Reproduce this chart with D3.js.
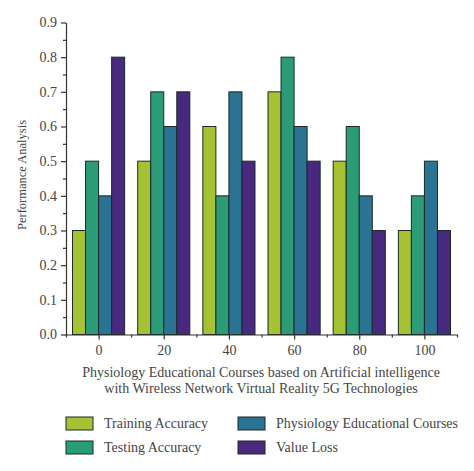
<!DOCTYPE html>
<html><head><meta charset="utf-8">
<script src="https://cdn.jsdelivr.net/npm/d3@7"></script>
<style>body{margin:0;background:#fff}svg{display:block}</style>
</head><body><svg id="c" width="474" height="471"></svg>
<script>
const categories = [0, 20, 40, 60, 80, 100];
const seriesNames = ["Training Accuracy", "Testing Accuracy", "Physiology Educational Courses", "Value Loss"];
const trainingAccuracy = [0.3, 0.5, 0.6, 0.7, 0.5, 0.3];
const testingAccuracy = [0.5, 0.7, 0.4, 0.8, 0.6, 0.4];
const physiologyCourses = [0.4, 0.6, 0.7, 0.6, 0.4, 0.5];
const valueLoss = [0.8, 0.7, 0.5, 0.5, 0.3, 0.3];
const yTicks = [0, 0.1, 0.2, 0.3, 0.4, 0.5, 0.6, 0.7, 0.8, 0.9];
const series = [trainingAccuracy, testingAccuracy, physiologyCourses, valueLoss];
const colors = ["#a6c232", "#2b9b78", "#2a7393", "#48297f"];

const svg = d3.select("#c");
const font = "'Liberation Serif', 'Times New Roman', serif";
const textColor = "#444";
const x = d3.scaleLinear().domain([-10, 110]).range([66, 457]);
const y = d3.scaleLinear().domain([0, 0.9]).range([334.5, 22.5]);
const barW = 4; // in data units

// bars
series.forEach((vals, si) => {
  svg.append("g").selectAll("rect").data(vals).join("rect")
    .attr("x", (d, i) => x(categories[i] - 8 + si * barW))
    .attr("width", x(barW) - x(0))
    .attr("y", d => y(d))
    .attr("height", d => y(0) - y(d))
    .attr("fill", colors[si])
    .attr("stroke", "#1a2a25")
    .attr("stroke-width", 1);
});

// y axis
svg.append("g").attr("transform", "translate(66,0)")
  .call(d3.axisLeft(y).tickValues(yTicks).tickFormat(d3.format(".1f")).tickSize(5).tickPadding(4).tickSizeOuter(0));
svg.append("g").attr("transform", "translate(66,0)")
  .call(d3.axisLeft(y).tickValues(d3.range(0.05, 0.9, 0.1)).tickFormat("").tickSize(3).tickSizeOuter(0))
  .select(".domain").remove();

// x axis
svg.append("g").attr("transform", "translate(0,334.5)")
  .call(d3.axisBottom(x).tickValues(categories).tickFormat(d3.format("d")).tickSize(5).tickPadding(6).tickSizeOuter(0));
svg.append("g").attr("transform", "translate(0,334.5)")
  .call(d3.axisBottom(x).tickValues([-10, 10, 30, 50, 70, 90, 110]).tickFormat("").tickSize(3).tickSizeOuter(0))
  .select(".domain").remove();

svg.selectAll(".domain, .tick line").attr("stroke", "#333").attr("stroke-width", 1.2);
svg.selectAll(".tick text").attr("font-family", font).attr("font-size", 14).attr("fill", textColor);

// axis titles
svg.append("text").attr("transform", "translate(26,175) rotate(-90)")
  .attr("text-anchor", "middle").attr("font-family", font).attr("font-size", 12.5).attr("fill", textColor)
  .text("Performance Analysis");
svg.append("text").attr("x", 261).attr("y", 377)
  .attr("text-anchor", "middle").attr("font-family", font).attr("font-size", 14).attr("fill", textColor)
  .text("Physiology Educational Courses based on Artificial intelligence");
svg.append("text").attr("x", 261).attr("y", 393)
  .attr("text-anchor", "middle").attr("font-family", font).attr("font-size", 14).attr("fill", textColor)
  .text("with Wireless Network Virtual Reality 5G Technologies");

// legend
const legPos = [[66, 417], [66, 441], [238, 417], [238, 441]];
seriesNames.forEach((n, i) => {
  const g = svg.append("g").attr("transform", `translate(${legPos[i][0]},${legPos[i][1]})`);
  g.append("rect").attr("width", 27).attr("height", 13).attr("fill", colors[i]).attr("stroke", "#1a2a25").attr("stroke-width", 1);
  g.append("text").attr("x", 38).attr("y", 11).attr("font-family", font).attr("font-size", 14).attr("fill", textColor).text(n);
});
</script></body></html>
